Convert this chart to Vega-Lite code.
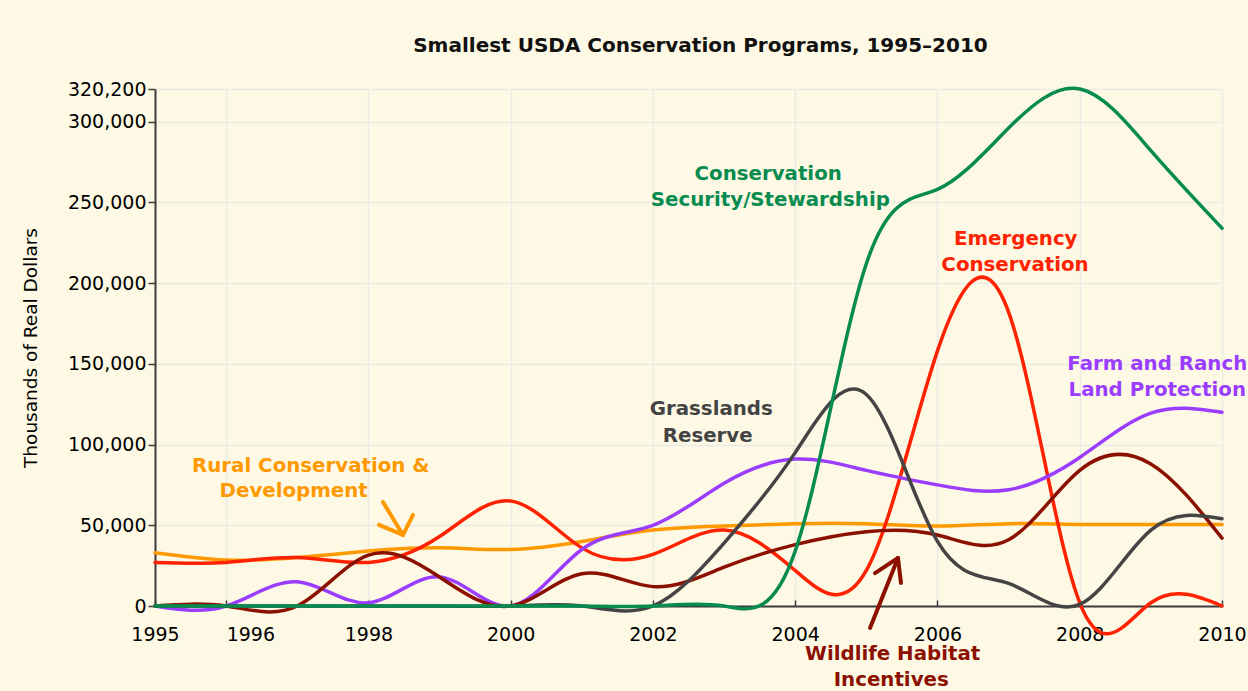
{
  "$schema": "https://vega.github.io/schema/vega-lite/v6.json",
  "width": 1067,
  "height": 517,
  "autosize": {"type": "none"},
  "padding": {"left": 155, "top": 89, "right": 26, "bottom": 85},
  "background": "#fef9e4",
  "title": {"text": "Smallest USDA Conservation Programs, 1995–2010", "font": "DejaVu Sans", "fontSize": 20, "fontWeight": "bold", "color": "#111111", "anchor": "middle", "frame": "group", "baseline": "alphabetic", "offset": 8, "dx": 12},
  "datasets": {
    "lines": [
      {"series": "Rural", "year": 1995, "value": 33000}, {"series": "Rural", "year": 1996, "value": 28500}, {"series": "Rural", "year": 1997, "value": 30000}, {"series": "Rural", "year": 1998, "value": 34000}, {"series": "Rural", "year": 1999, "value": 36000}, {"series": "Rural", "year": 2000, "value": 35000}, {"series": "Rural", "year": 2001, "value": 40000}, {"series": "Rural", "year": 2002, "value": 47000}, {"series": "Rural", "year": 2003, "value": 49500}, {"series": "Rural", "year": 2004, "value": 51000}, {"series": "Rural", "year": 2005, "value": 51000}, {"series": "Rural", "year": 2006, "value": 49500}, {"series": "Rural", "year": 2007, "value": 51000}, {"series": "Rural", "year": 2008, "value": 50500}, {"series": "Rural", "year": 2009, "value": 50500}, {"series": "Rural", "year": 2010, "value": 50500},
      {"series": "Emergency", "year": 1995, "value": 27000}, {"series": "Emergency", "year": 1996, "value": 27000}, {"series": "Emergency", "year": 1997, "value": 30000}, {"series": "Emergency", "year": 1998, "value": 27000}, {"series": "Emergency", "year": 1999, "value": 43000}, {"series": "Emergency", "year": 2000, "value": 65000}, {"series": "Emergency", "year": 2001, "value": 36000}, {"series": "Emergency", "year": 2002, "value": 32000}, {"series": "Emergency", "year": 2003, "value": 47000}, {"series": "Emergency", "year": 2004, "value": 22000}, {"series": "Emergency", "year": 2005, "value": 22000}, {"series": "Emergency", "year": 2006, "value": 158000}, {"series": "Emergency", "year": 2007, "value": 182000}, {"series": "Emergency", "year": 2008, "value": 2000}, {"series": "Emergency", "year": 2009, "value": 2000}, {"series": "Emergency", "year": 2010, "value": 0},
      {"series": "Farm", "year": 1995, "value": 0}, {"series": "Farm", "year": 1996, "value": 0}, {"series": "Farm", "year": 1997, "value": 15000}, {"series": "Farm", "year": 1998, "value": 2000}, {"series": "Farm", "year": 1999, "value": 18000}, {"series": "Farm", "year": 2000, "value": 0}, {"series": "Farm", "year": 2001, "value": 35000}, {"series": "Farm", "year": 2002, "value": 50000}, {"series": "Farm", "year": 2003, "value": 76000}, {"series": "Farm", "year": 2004, "value": 91000}, {"series": "Farm", "year": 2005, "value": 84000}, {"series": "Farm", "year": 2006, "value": 75000}, {"series": "Farm", "year": 2007, "value": 72000}, {"series": "Farm", "year": 2008, "value": 92000}, {"series": "Farm", "year": 2009, "value": 119500}, {"series": "Farm", "year": 2010, "value": 120000},
      {"series": "Wildlife", "year": 1995, "value": 0}, {"series": "Wildlife", "year": 1996, "value": 0}, {"series": "Wildlife", "year": 1997, "value": 0}, {"series": "Wildlife", "year": 1998, "value": 31500}, {"series": "Wildlife", "year": 1999, "value": 18000}, {"series": "Wildlife", "year": 2000, "value": 0}, {"series": "Wildlife", "year": 2001, "value": 20000}, {"series": "Wildlife", "year": 2002, "value": 12000}, {"series": "Wildlife", "year": 2003, "value": 24000}, {"series": "Wildlife", "year": 2004, "value": 38000}, {"series": "Wildlife", "year": 2005, "value": 46000}, {"series": "Wildlife", "year": 2006, "value": 44000}, {"series": "Wildlife", "year": 2007, "value": 41000}, {"series": "Wildlife", "year": 2008, "value": 84000}, {"series": "Wildlife", "year": 2009, "value": 88000}, {"series": "Wildlife", "year": 2010, "value": 42000},
      {"series": "Grasslands", "year": 1995, "value": 0}, {"series": "Grasslands", "year": 1996, "value": 0}, {"series": "Grasslands", "year": 1997, "value": 0}, {"series": "Grasslands", "year": 1998, "value": 0}, {"series": "Grasslands", "year": 1999, "value": 0}, {"series": "Grasslands", "year": 2000, "value": 0}, {"series": "Grasslands", "year": 2001, "value": 0}, {"series": "Grasslands", "year": 2002, "value": 0}, {"series": "Grasslands", "year": 2003, "value": 39000}, {"series": "Grasslands", "year": 2004, "value": 95000}, {"series": "Grasslands", "year": 2005, "value": 131000}, {"series": "Grasslands", "year": 2006, "value": 40000}, {"series": "Grasslands", "year": 2007, "value": 14000}, {"series": "Grasslands", "year": 2008, "value": 1000}, {"series": "Grasslands", "year": 2009, "value": 47000}, {"series": "Grasslands", "year": 2010, "value": 54000},
      {"series": "Security", "year": 1995, "value": 0}, {"series": "Security", "year": 1996, "value": 0}, {"series": "Security", "year": 1997, "value": 0}, {"series": "Security", "year": 1998, "value": 0}, {"series": "Security", "year": 1999, "value": 0}, {"series": "Security", "year": 2000, "value": 0}, {"series": "Security", "year": 2001, "value": 0}, {"series": "Security", "year": 2002, "value": 0}, {"series": "Security", "year": 2003, "value": 0}, {"series": "Security", "year": 2004, "value": 34000}, {"series": "Security", "year": 2005, "value": 212000}, {"series": "Security", "year": 2006, "value": 258000}, {"series": "Security", "year": 2007, "value": 296000}, {"series": "Security", "year": 2008, "value": 320200}, {"series": "Security", "year": 2009, "value": 282000}, {"series": "Security", "year": 2010, "value": 234000}
    ],
    "arrows": [
      {"seg": "o1", "series": "Rural", "year": 1998.205, "value": 64400}, {"seg": "o1", "series": "Rural", "year": 1998.486, "value": 44000},
      {"seg": "o2", "series": "Rural", "year": 1998.149, "value": 50200}, {"seg": "o2", "series": "Rural", "year": 1998.486, "value": 44000},
      {"seg": "o3", "series": "Rural", "year": 1998.627, "value": 56400}, {"seg": "o3", "series": "Rural", "year": 1998.486, "value": 44000},
      {"seg": "d1", "series": "Wildlife", "year": 2005.052, "value": -13600}, {"seg": "d1", "series": "Wildlife", "year": 2005.445, "value": 29700},
      {"seg": "d2", "series": "Wildlife", "year": 2005.122, "value": 20400}, {"seg": "d2", "series": "Wildlife", "year": 2005.445, "value": 29700},
      {"seg": "d3", "series": "Wildlife", "year": 2005.487, "value": 14200}, {"seg": "d3", "series": "Wildlife", "year": 2005.445, "value": 29700}
    ],
    "labels": [
      {"series": "Security", "text": "Conservation", "year": 2003.62, "value": 267600},
      {"series": "Security", "text": "Security/Stewardship", "year": 2003.65, "value": 251500},
      {"series": "Emergency", "text": "Emergency", "year": 2007.10, "value": 227300},
      {"series": "Emergency", "text": "Conservation", "year": 2007.09, "value": 211200},
      {"series": "Farm", "text": "Farm and Ranch", "year": 2009.09, "value": 149900},
      {"series": "Farm", "text": "Land Protection", "year": 2009.09, "value": 133800},
      {"series": "Grasslands", "text": "Grasslands", "year": 2002.82, "value": 122000},
      {"series": "Grasslands", "text": "Reserve", "year": 2002.77, "value": 105300},
      {"series": "Rural", "text": "Rural Conservation &", "year": 1997.19, "value": 86700},
      {"series": "Rural", "text": "Development", "year": 1996.95, "value": 71200},
      {"series": "Wildlife", "text": "Wildlife Habitat", "year": 2005.37, "value": -29700},
      {"series": "Wildlife", "text": "Incentives", "year": 2005.35, "value": -45800}
    ]
  },
  "encoding": {
    "x": {"field": "year", "type": "quantitative",
      "scale": {"domain": [1995, 2010], "nice": false, "zero": false},
      "axis": {"values": [1995, 1996, 1998, 2000, 2002, 2004, 2006, 2008, 2010], "format": "d", "title": null, "tickSize": -6, "labelPadding": 25, "labelFlush": false, "labelOverlap": false, "grid": true,
        "labelAlign": {"condition": {"test": "datum.value == 1996", "value": "left"}, "value": "center"}}},
    "y": {"field": "value", "type": "quantitative",
      "scale": {"domain": [0, 320200], "nice": false, "zero": false},
      "axis": {"values": [0, 50000, 100000, 150000, 200000, 250000, 300000, 320200], "format": ",d", "title": "Thousands of Real Dollars", "tickSize": 7, "labelPadding": 2, "titlePadding": 27, "labelFlush": false, "labelOverlap": false, "grid": true}},
    "color": {"field": "series", "type": "nominal", "legend": null,
      "scale": {"domain": ["Rural", "Emergency", "Farm", "Wildlife", "Grasslands", "Security"],
                "range": ["#ff9900", "#ff2200", "#9b3dff", "#8b1000", "#444444", "#078b4f"]}}
  },
  "layer": [
    {"data": {"name": "lines"},
     "mark": {"type": "line", "interpolate": "natural", "strokeWidth": 3.5, "strokeCap": "round", "strokeJoin": "round"}},
    {"data": {"name": "arrows"},
     "mark": {"type": "line", "strokeWidth": 4, "strokeCap": "round", "strokeJoin": "round"},
     "encoding": {"detail": {"field": "seg", "type": "nominal"}}},
    {"data": {"name": "labels"},
     "mark": {"type": "text", "font": "DejaVu Sans", "fontSize": 19.8, "fontWeight": "bold", "align": "center", "baseline": "middle"},
     "encoding": {"text": {"field": "text", "type": "nominal"}}}
  ],
  "config": {
    "view": {"stroke": null},
    "axis": {"labelFont": "DejaVu Sans", "labelFontSize": 19, "labelColor": "#000000", "titleFont": "DejaVu Sans", "titleFontSize": 18.5, "titleFontWeight": "normal", "titleColor": "#000000", "domainColor": "#3c3c3c", "domainWidth": 2, "tickColor": "#3c3c3c", "tickWidth": 1.5, "gridColor": "#ebebe6", "gridWidth": 1.5}
  }
}
